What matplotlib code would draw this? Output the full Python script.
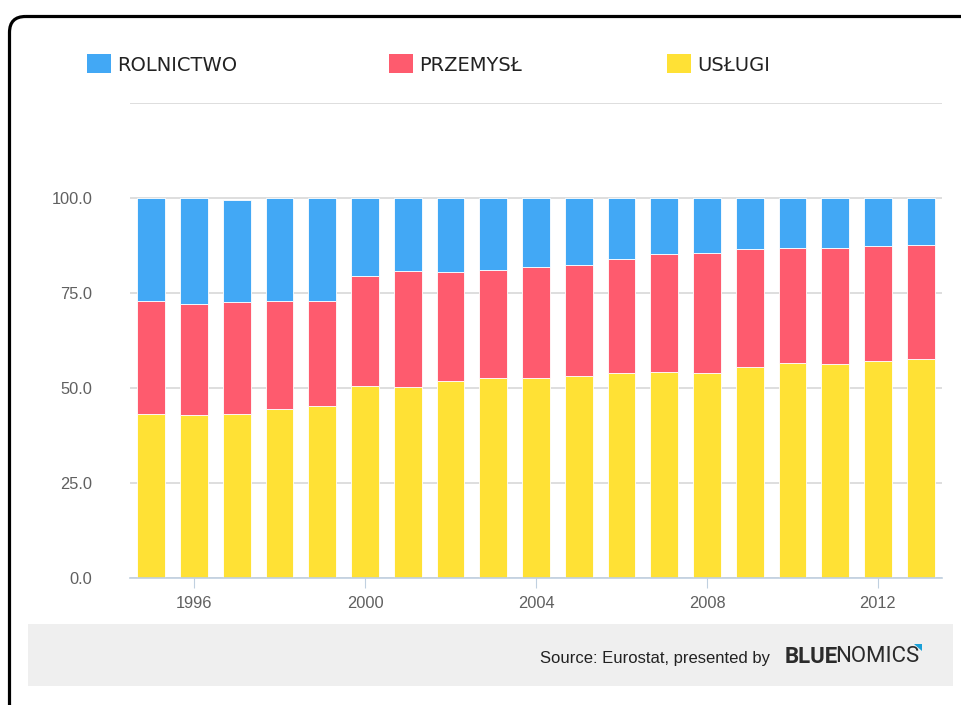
import matplotlib
matplotlib.use("Agg")
import matplotlib.pyplot as plt
from matplotlib.patches import FancyBboxPatch, Rectangle, Polygon

# shares of employment by sector (%)
years = list(range(1995, 2014))
rolnictwo = [27.0, 27.8, 26.9, 27.0, 27.0, 20.4, 19.3, 19.6, 18.9, 18.1,
             17.6, 16.1, 14.7, 14.4, 13.5, 13.1, 13.1, 12.6, 12.3]
przemysl = [29.8, 29.4, 29.4, 28.5, 27.7, 29.0, 30.5, 28.6, 28.5, 29.3,
            29.3, 30.0, 31.0, 31.7, 31.0, 30.2, 30.5, 30.2, 30.1]
uslugi = [43.2, 42.8, 43.2, 44.5, 45.3, 50.6, 50.2, 51.8, 52.6, 52.6,
          53.1, 53.9, 54.3, 53.9, 55.5, 56.7, 56.4, 57.2, 57.6]

series_names = ["ROLNICTWO", "PRZEMYSŁ", "USŁUGI"]
colors = ["#42a8f5", "#fe5b6e", "#ffe135"]

y_ticks = [0, 25, 50, 75, 100, 125]
y_labels = ["0.0", "25.0", "50.0", "75.0", "100.0", ""]
x_ticks = [1996, 2000, 2004, 2008, 2012]

W, H = 961, 705
fig = plt.figure(figsize=(W / 100, H / 100), dpi=100)

# background layer in pixel coordinates
bg = fig.add_axes([0, 0, 1, 1], zorder=0)
bg.set_xlim(0, W)
bg.set_ylim(H, 0)
bg.axis("off")

bg.add_patch(FancyBboxPatch((9.5, 16.5), 975, 705,
                            boxstyle="round,pad=0,rounding_size=16",
                            fc="none", ec="black", lw=2.3))
bg.add_patch(Rectangle((28, 624), 925, 62, fc="#efefef", ec="none"))

# legend
legend_x = [87, 389, 667]
for name, col, lx in zip(series_names, colors, legend_x):
    bg.add_patch(Rectangle((lx, 54), 24, 19, fc=col, ec="none"))
    bg.text(lx + 30, 65.5, name, fontsize=14, color="#222222",
            va="center", ha="left", family="DejaVu Sans")

# footer
bg.text(770, 658, "Source: Eurostat, presented by", fontsize=12,
        color="#222222", ha="right", va="center", family="Liberation Sans")
t1 = bg.text(785, 657, "BLUE", fontsize=16, fontweight="bold", color="#2b2b2b",
             ha="left", va="center", family="Roboto")
fig.canvas.draw()
bb = t1.get_window_extent()
x_end = bb.x1 - 3  # pixel space equals data space here
bg.text(x_end, 657, "NOMICS", fontsize=16, color="#2b2b2b",
        ha="left", va="center", family="Roboto")
bg.add_patch(Polygon([(914, 644), (922, 644), (922, 651)], closed=True,
                     fc="#1aa0d8", ec="none"))

# main chart
ax = fig.add_axes([130 / W, 1 - 578 / H, 812 / W, 475 / H], zorder=1)
ax.patch.set_alpha(0)

bottom2 = [u + p for u, p in zip(uslugi, przemysl)]
ax.bar(years, uslugi, width=0.65, color=colors[2], edgecolor="white", lw=0.6, zorder=3)
ax.bar(years, przemysl, width=0.65, bottom=uslugi, color=colors[1],
       edgecolor="white", lw=0.6, zorder=3)
ax.bar(years, rolnictwo, width=0.65, bottom=bottom2, color=colors[0],
       edgecolor="white", lw=0.6, zorder=3)

ax.set_xlim(1994.5, 2013.5)
ax.set_ylim(0, 125)
ax.set_yticks(y_ticks)
ax.set_yticklabels(y_labels)
ax.set_xticks(x_ticks)
ax.set_xticklabels([str(x) for x in x_ticks])

ax.yaxis.grid(True, color="#d8d8d8", lw=1.2, zorder=0)
ax.set_axisbelow(True)
for side in ["top", "right", "left"]:
    ax.spines[side].set_visible(False)
ax.spines["bottom"].set_color("#c0d0e0")
ax.spines["bottom"].set_linewidth(1.2)
ax.spines["bottom"].set_zorder(4)

ax.tick_params(axis="y", length=0, pad=27, labelsize=11.8, labelcolor="#606060")
ax.tick_params(axis="x", length=7, width=0.8, color="#c0d0e0", pad=6,
               labelsize=11.8, labelcolor="#606060")
for lab in ax.get_xticklabels() + ax.get_yticklabels():
    lab.set_family("Liberation Sans")

fig.savefig("out.png", dpi=100)
